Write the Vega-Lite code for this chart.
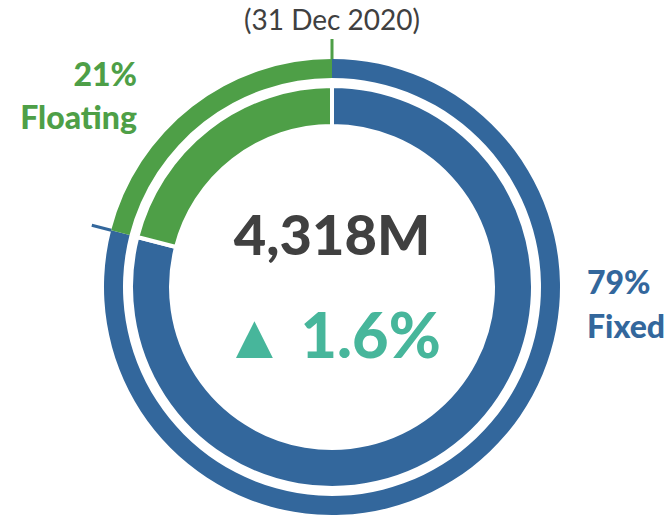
{
  "$schema": "https://vega.github.io/schema/vega-lite/v6.json",
  "width": 664,
  "height": 458,
  "autosize": {"type": "none"},
  "padding": {"left": 0, "top": 58, "right": 6, "bottom": 0},
  "background": "white",
  "config": {"view": {"stroke": null}, "font": "Lato"},
  "datasets": {
    "mix": [
      {"seg": "Fixed", "share": 0.79},
      {"seg": "Floating", "share": 0.21}
    ],
    "centre": [
      {"asof": "(31 Dec 2020)", "total": "4,318M", "change": "▲ 1.6%"}
    ]
  },
  "data": {"name": "mix"},
  "layer": [
    {
      "mark": {"type": "arc", "outerRadius": 228, "innerRadius": 209},
      "encoding": {
        "theta": {"field": "share", "type": "quantitative", "stack": true, "scale": {"domain": [0, 1]}},
        "color": {"field": "seg", "type": "nominal", "scale": {"domain": ["Fixed", "Floating"], "range": ["#33679C", "#4E9F47"]}, "legend": null}
      }
    },
    {
      "mark": {"type": "arc", "outerRadius": 201, "innerRadius": 161, "stroke": "white", "strokeWidth": 4},
      "encoding": {
        "theta": {"field": "share", "type": "quantitative", "stack": true, "scale": {"domain": [0, 1]}},
        "color": {"field": "seg", "type": "nominal", "scale": {"domain": ["Fixed", "Floating"], "range": ["#33679C", "#4E9F47"]}, "legend": null}
      }
    },
    {
      "transform": [
        {"stack": "share", "groupby": [], "as": ["s0", "s1"], "sort": [{"field": "seg", "order": "ascending"}]}
      ],
      "mark": {"type": "arc", "outerRadius": 248, "innerRadius": 228, "filled": false, "strokeWidth": 3, "strokeCap": "butt"},
      "encoding": {
        "theta": {"field": "s1", "type": "quantitative", "scale": {"domain": [0, 1]}},
        "theta2": {"field": "s1"},
        "color": {"field": "seg", "type": "nominal", "scale": {"domain": ["Fixed", "Floating"], "range": ["#33679C", "#4E9F47"]}, "legend": null}
      }
    },
    {
      "transform": [{"filter": "datum.seg === 'Floating'"}],
      "mark": {"type": "text", "align": "right", "baseline": "alphabetic", "dx": -195, "dy": -201, "font": "Lato", "fontSize": 32, "fontWeight": 900},
      "encoding": {
        "text": {"field": "share", "type": "quantitative", "format": ".0%"},
        "color": {"field": "seg", "type": "nominal", "scale": {"domain": ["Fixed", "Floating"], "range": ["#33679C", "#4E9F47"]}, "legend": null}
      }
    },
    {
      "transform": [{"filter": "datum.seg === 'Floating'"}],
      "mark": {"type": "text", "align": "right", "baseline": "alphabetic", "dx": -195, "dy": -158, "font": "Lato", "fontSize": 32, "fontWeight": 900},
      "encoding": {
        "text": {"field": "seg", "type": "nominal"},
        "color": {"field": "seg", "type": "nominal", "scale": {"domain": ["Fixed", "Floating"], "range": ["#33679C", "#4E9F47"]}, "legend": null}
      }
    },
    {
      "transform": [{"filter": "datum.seg === 'Fixed'"}],
      "mark": {"type": "text", "align": "left", "baseline": "alphabetic", "dx": 255, "dy": 7, "font": "Lato", "fontSize": 32, "fontWeight": 900},
      "encoding": {
        "text": {"field": "share", "type": "quantitative", "format": ".0%"},
        "color": {"field": "seg", "type": "nominal", "scale": {"domain": ["Fixed", "Floating"], "range": ["#33679C", "#4E9F47"]}, "legend": null}
      }
    },
    {
      "transform": [{"filter": "datum.seg === 'Fixed'"}],
      "mark": {"type": "text", "align": "left", "baseline": "alphabetic", "dx": 255, "dy": 51, "font": "Lato", "fontSize": 32, "fontWeight": 900},
      "encoding": {
        "text": {"field": "seg", "type": "nominal"},
        "color": {"field": "seg", "type": "nominal", "scale": {"domain": ["Fixed", "Floating"], "range": ["#33679C", "#4E9F47"]}, "legend": null}
      }
    },
    {
      "data": {"name": "centre"},
      "mark": {"type": "text", "align": "center", "baseline": "alphabetic", "dy": -257, "font": "Lato", "fontSize": 28, "fontWeight": "normal", "color": "#404040"},
      "encoding": {"text": {"field": "asof", "type": "nominal"}}
    },
    {
      "data": {"name": "centre"},
      "mark": {"type": "text", "align": "center", "baseline": "alphabetic", "dy": -32, "font": "Lato", "fontSize": 56, "fontWeight": 900, "color": "#404040"},
      "encoding": {"text": {"field": "total", "type": "nominal"}}
    },
    {
      "data": {"name": "centre"},
      "mark": {"type": "text", "align": "center", "baseline": "alphabetic", "dy": 71, "font": "Lato", "fontSize": 63, "fontWeight": 900, "color": "#47B69B"},
      "encoding": {"text": {"field": "change", "type": "nominal"}}
    }
  ]
}
